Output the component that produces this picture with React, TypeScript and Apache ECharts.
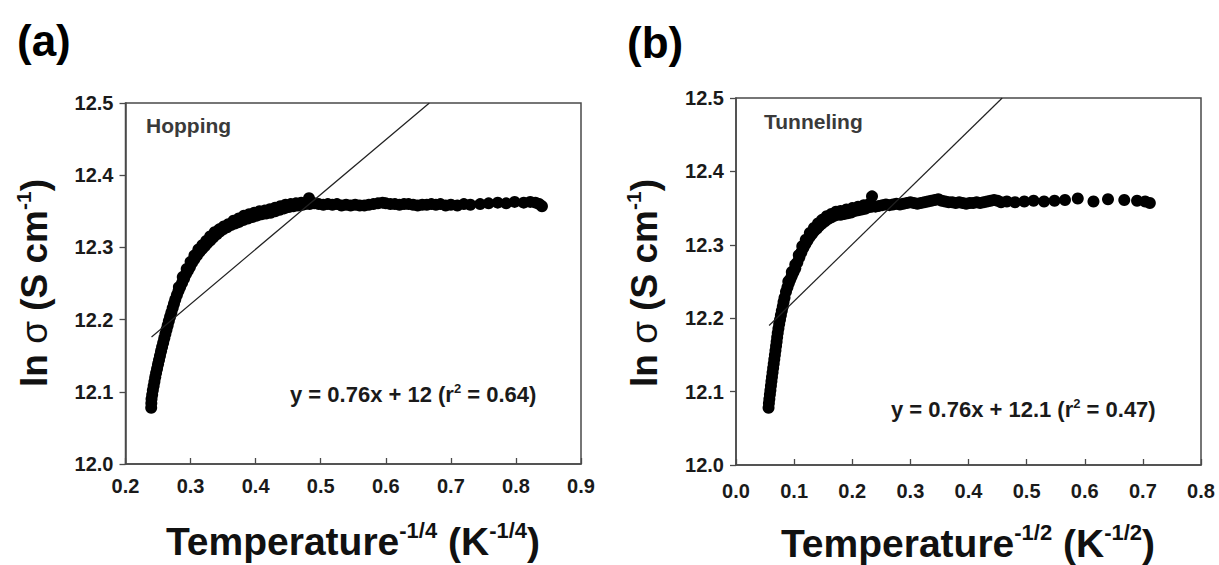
import React, { useEffect, useRef } from "react";
import * as echarts from "echarts";

const FONT = "'Liberation Sans', Arial, sans-serif";

// Panel (a): Hopping  — ln σ vs T^-1/4 (centre line of the dense band)
const hoppingPoints: [number, number][] = [
  [0.2395, 12.078], [0.2397, 12.084], [0.2400, 12.090], [0.2410, 12.096], [0.2420, 12.102],
  [0.2432, 12.108], [0.2444, 12.114], [0.2457, 12.120], [0.2470, 12.126], [0.2485, 12.132],
  [0.2500, 12.138], [0.2515, 12.144], [0.2530, 12.150], [0.2546, 12.156], [0.2562, 12.162],
  [0.2579, 12.168], [0.2596, 12.174], [0.2613, 12.180], [0.2630, 12.186], [0.2648, 12.192],
  [0.2666, 12.198], [0.2685, 12.204], [0.2705, 12.210], [0.2725, 12.216], [0.2745, 12.222],
  [0.2765, 12.228], [0.2790, 12.234], [0.2815, 12.240], [0.2840, 12.245], [0.2870, 12.251],
  [0.2900, 12.257], [0.2930, 12.263], [0.2960, 12.268], [0.2990, 12.273], [0.3025, 12.279],
  [0.3060, 12.284], [0.3100, 12.289], [0.3140, 12.294], [0.3180, 12.298], [0.3220, 12.302],
  [0.3260, 12.306], [0.3305, 12.310], [0.3350, 12.314], [0.3400, 12.318], [0.3450, 12.322],
  [0.3500, 12.325], [0.3560, 12.328], [0.3620, 12.331], [0.3680, 12.333], [0.3740, 12.335],
  [0.3810, 12.338], [0.3880, 12.340], [0.3950, 12.342], [0.4020, 12.344], [0.4090, 12.346],
  [0.4160, 12.347], [0.4230, 12.348], [0.4300, 12.350], [0.4370, 12.352], [0.4440, 12.354],
  [0.4510, 12.356], [0.4580, 12.357], [0.4650, 12.358], [0.4720, 12.359], [0.4760, 12.360],
  [0.4820, 12.368], [0.4830, 12.360], [0.4900, 12.361], [0.4970, 12.360], [0.5040, 12.359],
  [0.5110, 12.360], [0.5180, 12.359], [0.5250, 12.360], [0.5320, 12.358], [0.5390, 12.359],
  [0.5460, 12.358], [0.5530, 12.359], [0.5600, 12.358], [0.5670, 12.358], [0.5740, 12.359],
  [0.5810, 12.360], [0.5880, 12.361], [0.5950, 12.362], [0.6000, 12.361], [0.6070, 12.360],
  [0.6140, 12.360], [0.6210, 12.359], [0.6280, 12.360], [0.6350, 12.360], [0.6420, 12.359],
  [0.6490, 12.358], [0.6560, 12.359], [0.6630, 12.359], [0.6700, 12.360], [0.6770, 12.359],
  [0.6840, 12.360], [0.6920, 12.358], [0.7000, 12.359], [0.7100, 12.358], [0.7200, 12.360],
  [0.7300, 12.359], [0.7450, 12.360], [0.7580, 12.361], [0.7720, 12.362], [0.7850, 12.361],
  [0.7980, 12.363], [0.8120, 12.362], [0.8220, 12.363], [0.8300, 12.362], [0.8360, 12.360],
  [0.8400, 12.357],
];
// upper edge of the scattered band in the bend (a)
const hoppingSpread: [number, number][] = [
  [0.282, 12.245], [0.288, 12.259], [0.294, 12.270], [0.300, 12.280], [0.306, 12.289],
  [0.312, 12.297], [0.318, 12.303], [0.324, 12.309], [0.330, 12.315], [0.337, 12.321],
  [0.344, 12.325], [0.351, 12.329], [0.358, 12.332], [0.366, 12.337], [0.374, 12.340],
  [0.382, 12.344], [0.390, 12.346], [0.398, 12.348], [0.406, 12.350], [0.414, 12.351],
  [0.422, 12.353], [0.430, 12.355], [0.438, 12.357], [0.446, 12.359], [0.454, 12.360],
  [0.462, 12.361], [0.470, 12.362],
];
const hoppingFit: [number, number][] = [[0.240, 12.176], [0.667, 12.5]];

// Panel (b): Tunneling — ln σ vs T^-1/2
const tunnelingPoints: [number, number][] = [
  [0.0560, 12.078], [0.0566, 12.084], [0.0574, 12.090], [0.0583, 12.096], [0.0592, 12.102],
  [0.0601, 12.108], [0.0610, 12.114], [0.0619, 12.120], [0.0629, 12.126], [0.0639, 12.132],
  [0.0649, 12.138], [0.0659, 12.144], [0.0669, 12.150], [0.0679, 12.156], [0.0689, 12.162],
  [0.0699, 12.168], [0.0708, 12.174], [0.0718, 12.180], [0.0730, 12.186], [0.0743, 12.192],
  [0.0757, 12.198], [0.0772, 12.204], [0.0788, 12.210], [0.0805, 12.216], [0.0818, 12.222],
  [0.0835, 12.228], [0.0860, 12.236], [0.0885, 12.242], [0.0910, 12.248], [0.0935, 12.253],
  [0.0960, 12.258], [0.0990, 12.263], [0.1020, 12.268], [0.1055, 12.276], [0.1090, 12.283],
  [0.1125, 12.290], [0.1160, 12.296], [0.1195, 12.301], [0.1230, 12.306], [0.1270, 12.311],
  [0.1310, 12.315], [0.1350, 12.319], [0.1390, 12.322], [0.1435, 12.326], [0.1480, 12.329],
  [0.1530, 12.332], [0.1580, 12.335], [0.1630, 12.337], [0.1680, 12.339], [0.1740, 12.341],
  [0.1800, 12.341], [0.1860, 12.342], [0.1920, 12.343], [0.1980, 12.344], [0.2040, 12.346],
  [0.2100, 12.347], [0.2160, 12.348], [0.2220, 12.349], [0.2280, 12.351], [0.2340, 12.366],
  [0.2340, 12.352], [0.2400, 12.352], [0.2460, 12.353], [0.2520, 12.354], [0.2580, 12.355],
  [0.2640, 12.354], [0.2700, 12.355], [0.2760, 12.356], [0.2820, 12.355], [0.2880, 12.356],
  [0.2940, 12.357], [0.3000, 12.358], [0.3060, 12.357], [0.3120, 12.356], [0.3180, 12.357],
  [0.3240, 12.358], [0.3300, 12.359], [0.3360, 12.360], [0.3420, 12.361], [0.3480, 12.362],
  [0.3540, 12.360], [0.3600, 12.359], [0.3660, 12.358], [0.3720, 12.358], [0.3780, 12.357],
  [0.3840, 12.358], [0.3900, 12.357], [0.3960, 12.356], [0.4020, 12.357], [0.4080, 12.357],
  [0.4140, 12.358], [0.4200, 12.357], [0.4260, 12.358], [0.4320, 12.359], [0.4380, 12.360],
  [0.4440, 12.361], [0.4500, 12.360], [0.4560, 12.358], [0.4660, 12.359], [0.4800, 12.358],
  [0.4960, 12.359], [0.5120, 12.360], [0.5300, 12.359], [0.5480, 12.360], [0.5660, 12.361],
  [0.5880, 12.363], [0.6150, 12.359], [0.6400, 12.362], [0.6680, 12.361], [0.6900, 12.360],
  [0.7040, 12.359], [0.7120, 12.357],
];
// upper edge of the scattered band in the bend (b)
const tunnelingSpread: [number, number][] = [
  [0.090, 12.250], [0.096, 12.263], [0.102, 12.273], [0.108, 12.286], [0.114, 12.298],
  [0.120, 12.307], [0.127, 12.316], [0.134, 12.323], [0.141, 12.329], [0.148, 12.334],
  [0.156, 12.339], [0.164, 12.342], [0.172, 12.345], [0.180, 12.346], [0.190, 12.348],
  [0.200, 12.350], [0.210, 12.352], [0.220, 12.354], [0.230, 12.356],
];
const tunnelingFit: [number, number][] = [[0.057, 12.19], [0.458, 12.5]];

const panelLabels = ["(a)", "(b)"];
const modelLabels = ["Hopping", "Tunneling"];
const equations = [
  ["y = 0.76x + 12 (r", "2", " = 0.64)"],
  ["y = 0.76x + 12.1 (r", "2", " = 0.47)"],
];
const xTitleExps = ["-1/4", "-1/2"];

const FRAME = "#4a4a4a";

function makeAxes(gridIndex: number, min: number, max: number, margin: number) {
  return {
    x: {
      gridIndex,
      type: "value",
      min,
      max,
      interval: 0.1,
      axisLine: { show: true, onZero: false, lineStyle: { color: FRAME, width: 1.5 } },
      axisTick: { show: true, inside: true, length: 6, lineStyle: { color: FRAME, width: 1.3 } },
      splitLine: { show: false },
      axisLabel: {
        margin,
        fontSize: 20,
        fontWeight: "bold",
        color: "#1a1a1a",
        fontFamily: FONT,
        formatter: (v: number) => v.toFixed(1),
      },
    },
    y: {
      gridIndex,
      type: "value",
      min: 12,
      max: 12.5,
      interval: 0.1,
      axisLine: { show: true, onZero: false, lineStyle: { color: FRAME, width: 1.5 } },
      axisTick: { show: true, inside: false, length: 6, lineStyle: { color: FRAME, width: 1.3 } },
      splitLine: { show: false },
      axisLabel: {
        margin: 12,
        fontSize: 20,
        fontWeight: "bold",
        color: "#1a1a1a",
        fontFamily: FONT,
        formatter: (v: number) => v.toFixed(1),
      },
    },
  };
}

function xTitle(cx: number, cy: number, exp: string) {
  return {
    type: "text",
    x: cx,
    y: cy,
    style: {
      text: `{m|Temperature}{s|${exp}}{m| (K}{s|${exp}}{m|)}`,
      align: "center",
      verticalAlign: "middle",
      rich: {
        m: { fontSize: 39, fontWeight: "bold", fontFamily: FONT, fill: "#111", lineHeight: 44 },
        s: { fontSize: 22, fontWeight: "bold", fontFamily: FONT, fill: "#111", lineHeight: 25, verticalAlign: "top" },
      },
    },
  };
}

function yTitle(cx: number, cy: number) {
  return {
    type: "text",
    x: cx,
    y: cy,
    rotation: Math.PI / 2,
    style: {
      text: "{m|ln }{g|σ}{m| (S cm}{s|-1}{m|)}",
      align: "center",
      verticalAlign: "middle",
      rich: {
        m: { fontSize: 37, fontWeight: "bold", fontFamily: FONT, fill: "#111", lineHeight: 42 },
        g: { fontSize: 37, fontWeight: "normal", fontFamily: FONT, fill: "#111", lineHeight: 42 },
        s: { fontSize: 21, fontWeight: "bold", fontFamily: FONT, fill: "#111", lineHeight: 24, verticalAlign: "top" },
      },
    },
  };
}

function eqText(x: number, y: number, parts: string[]) {
  return {
    type: "text",
    x,
    y,
    style: {
      text: `{m|${parts[0]}}{s|${parts[1]}}{m|${parts[2]}}`,
      align: "left",
      verticalAlign: "middle",
      rich: {
        m: { fontSize: 22, fontWeight: "bold", fontFamily: FONT, fill: "#1a1a1a", lineHeight: 25 },
        s: { fontSize: 13, fontWeight: "bold", fontFamily: FONT, fill: "#1a1a1a", lineHeight: 14, verticalAlign: "top" },
      },
    },
  };
}

function scatter(idx: number, data: [number, number][]) {
  return {
    type: "scatter",
    xAxisIndex: idx,
    yAxisIndex: idx,
    data,
    symbolSize: 12,
    itemStyle: { color: "#000", opacity: 1 },
    silent: true,
  };
}

function fitLine(idx: number, data: [number, number][]) {
  return {
    type: "line",
    xAxisIndex: idx,
    yAxisIndex: idx,
    data,
    symbol: "none",
    lineStyle: { color: "#222", width: 1.2 },
    silent: true,
  };
}

export default function App() {
  const ref = useRef<HTMLDivElement>(null);

  useEffect(() => {
    if (!ref.current) return;
    const chart = echarts.init(ref.current, undefined, { renderer: "svg" });
    const a = makeAxes(0, 0.2, 0.9, 12);
    const b = makeAxes(1, 0, 0.8, 16);

    const option: any = {
      animation: false,
      backgroundColor: "#ffffff",
      grid: [
        { left: 125.5, top: 103, width: 455.5, height: 361, show: true, borderColor: FRAME, borderWidth: 1.5, backgroundColor: "transparent" },
        { left: 736, top: 98, width: 465, height: 367, show: true, borderColor: FRAME, borderWidth: 1.5, backgroundColor: "transparent" },
      ],
      xAxis: [a.x, b.x],
      yAxis: [a.y, b.y],
      series: [
        scatter(0, hoppingPoints),
        scatter(0, hoppingSpread),
        fitLine(0, hoppingFit),
        scatter(1, tunnelingPoints),
        scatter(1, tunnelingSpread),
        fitLine(1, tunnelingFit),
      ],
      graphic: [
        { type: "text", x: 17, y: 40, style: { text: panelLabels[0], fontSize: 44, fontWeight: "bold", fontFamily: FONT, fill: "#000", align: "left", verticalAlign: "middle" } },
        { type: "text", x: 627, y: 42, style: { text: panelLabels[1], fontSize: 44, fontWeight: "bold", fontFamily: FONT, fill: "#000", align: "left", verticalAlign: "middle" } },
        { type: "text", x: 146, y: 125, style: { text: modelLabels[0], fontSize: 21, fontWeight: "bold", fontFamily: FONT, fill: "#3a3a3a", align: "left", verticalAlign: "middle" } },
        { type: "text", x: 764, y: 121, style: { text: modelLabels[1], fontSize: 21, fontWeight: "bold", fontFamily: FONT, fill: "#3a3a3a", align: "left", verticalAlign: "middle" } },
        eqText(290, 394, equations[0]),
        eqText(891, 409, equations[1]),
        xTitle(353, 541, xTitleExps[0]),
        xTitle(968, 543, xTitleExps[1]),
        yTitle(34, 283),
        yTitle(644, 283),
      ],
    };
    chart.setOption(option);
    return () => chart.dispose();
  }, []);

  return (
    <div
      ref={ref}
      style={{ position: "fixed", left: 0, top: 0, width: 1219, height: 565, background: "#fff" }}
    />
  );
}
